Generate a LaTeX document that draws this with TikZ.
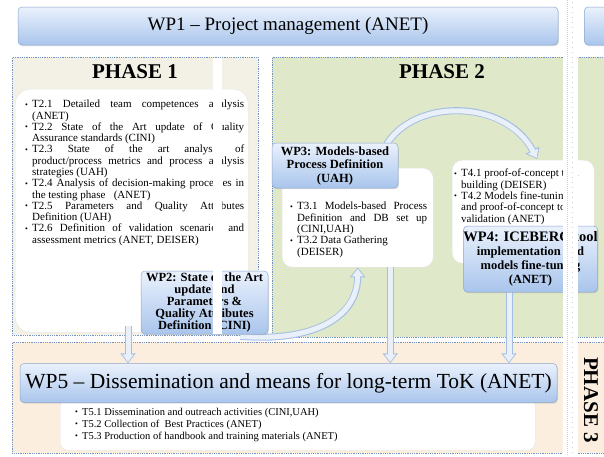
\documentclass[tikz,border=0pt]{standalone}
\usepackage{fontspec}
\setmainfont{Liberation Serif}
\usetikzlibrary{arrows.meta,shadows,calc}

\definecolor{wptop}{HTML}{EAF1FC}
\definecolor{wpbot}{HTML}{A9C5EC}
\definecolor{wpline}{HTML}{8EA8CF}
\definecolor{phline}{HTML}{7393C4}
\definecolor{phaseone}{HTML}{F3F1E6}
\definecolor{phasetwo}{HTML}{DFE8C9}
\definecolor{phasethree}{HTML}{FCEEDE}
\definecolor{arrline}{HTML}{A5BFE2}
\definecolor{arrfill}{HTML}{E9F0FA}
\definecolor{stripedot}{HTML}{C9D3DA}

\newlength{\itemw}
\newcommand{\listfont}{\fontsize{11}{11.4}\selectfont}
\newcommand{\smallfont}{\fontsize{10.5}{12}\selectfont}
% a line spread to the full item width
\newcommand{\jl}[1]{\makebox[\itemw][s]{#1}\\}
% bullet item: small bullet, then a block of width \itemw
\newcommand{\titem}[2][\listfont]{\par\noindent\hbox to 7pt{\raisebox{0.6pt}{\fontsize{8}{8}\selectfont\textbullet}\hss}%
  \parbox[t]{\itemw}{#1#2}}

\pgfdeclarelayer{back}
\pgfdeclarelayer{links}
\pgfdeclarelayer{front}
\pgfsetlayers{back,links,main,front}

\tikzset{
  wpbox/.style={draw=wpline, line width=0.5pt, rounded corners=4pt,
    top color=wptop, bottom color=wpbot,
    drop shadow={opacity=0.25, shadow xshift=0.8pt, shadow yshift=-1.2pt},
    inner sep=0pt, align=center, font=\bfseries},
  phasebox/.style={draw=phline, densely dotted, line width=0.8pt, inner sep=0pt, anchor=north west},
  taskbox/.style={fill=white, draw=black!10, line width=0.4pt, inner sep=0pt, anchor=north west},
  tasklist/.style={anchor=north west, inner sep=0pt, font=\listfont},
  phasetitle/.style={font=\fontsize{21}{21}\selectfont\bfseries, inner sep=0pt},
  arrowout/.style={line width=7pt, draw=arrline, -{Triangle[length=10pt,width=15pt]}},
  arrowin/.style={line width=5pt, draw=arrfill, -{Triangle[length=7.6pt,width=11pt]}, shorten >=1.3pt},
}

\begin{document}
\begin{tikzpicture}[x=1pt,y=-1pt]
\useasboundingbox (0,0) rectangle (604,456);
\clip (0,0) rectangle (604,456);

% ---------- phase areas, task panels and task lists ----------
\begin{pgfonlayer}{back}
\fill[white] (0,0) rectangle (604,456);
\node[phasebox, fill=phaseone, minimum width=246pt, minimum height=278pt] (ph1) at (12,57) {};
\node[phasebox, fill=phasetwo, minimum width=360pt, minimum height=280pt] (ph2) at (272,57) {};
\node[phasebox, fill=phasethree, minimum width=620pt, minimum height=111pt] (ph3) at (12,342) {};

\node[phasetitle] (ph1title) at (135,72) {PHASE 1};
\node[phasetitle] (ph2title) at (442,72) {PHASE 2};
\node[phasetitle, rotate=-90] (ph3title) at (591,400) {PHASE 3};

\node[taskbox, rounded corners=15pt, minimum width=233pt, minimum height=243pt] (t2box) at (15,89) {};
\node[tasklist] (t2list) at (25,100) {\setlength{\itemw}{212pt}%
\begin{minipage}[t]{219pt}\listfont
\titem{\jl{T2.1 Detailed team competences analysis}(ANET)}
\titem{\jl{T2.2 State of the Art update of Quality}Assurance standards (CINI)}
\titem{\jl{T2.3 State of the art analysis of}\jl{product/process metrics and process analysis}strategies (UAH)}
\titem{\jl{T2.4 Analysis of decision-making processes in}the testing phase\ \ \ (ANET)}
\titem{\jl{T2.5 Parameters and Quality Attributes}Definition (UAH)}
\titem{\jl{T2.6 Definition of validation scenarios and}assessment metrics (ANET, DEISER)}
\end{minipage}};

\node[taskbox, rounded corners=10pt, minimum width=151pt, minimum height=99pt] (t3box) at (282,168) {};
\node[tasklist] (t3list) at (290,202) {\setlength{\itemw}{130pt}%
\begin{minipage}[t]{137pt}\listfont
\titem{\jl{T3.1 Models-based Process}\jl{Definition and DB set up}(CINI,UAH)}
\titem{T3.2 Data Gathering\\(DEISER)}
\end{minipage}};

\node[taskbox, rounded corners=10pt, minimum width=142pt, minimum height=103pt] (t4box) at (452,160) {};
\node[tasklist] (t4list) at (454,169) {\setlength{\itemw}{128pt}%
\begin{minipage}[t]{135pt}\listfont
\titem{T4.1 proof-of-concept tool\\building (DEISER)}
\titem{T4.2 Models fine-tuning\\and proof-of-concept tool\\validation (ANET)}
\end{minipage}};

\node[taskbox, rounded corners=8pt, minimum width=475pt, minimum height=52pt] (t5box) at (60,398) {};
\node[tasklist] (t5list) at (75,408) {\setlength{\itemw}{320pt}%
\begin{minipage}[t]{327pt}\smallfont
\titem[\smallfont]{T5.1 Dissemination and outreach activities (CINI,UAH)}
\titem[\smallfont]{T5.2 Collection of\ \ Best Practices (ANET)}
\titem[\smallfont]{T5.3 Production of handbook and training materials (ANET)}
\end{minipage}};
\end{pgfonlayer}

% ---------- work packages ----------
\node[wpbox, font=\fontsize{19}{19}\selectfont, minimum width=540pt, minimum height=38pt] (wp1) at (288,26) {WP1 – Project management (ANET)};
\node[wpbox, minimum width=30pt, minimum height=38pt, anchor=west] (wpnext) at (584,26) {};

\node[wpbox, font=\fontsize{12.5}{12}\selectfont\bfseries, minimum width=127pt, minimum height=63pt] (wp2) at (204.5,302.5)
  {WP2: State of the Art\\update and\\Parameters \&\\Quality Attributes\\Definition (CINI)};
\node[wpbox, font=\fontsize{12.5}{13.5}\selectfont\bfseries, minimum width=126pt, minimum height=45pt] (wp3) at (335,165.5)
  {WP3: Models-based\\Process Definition\\(UAH)};
\node[wpbox, font=\fontsize{12.5}{14}\selectfont\bfseries, minimum width=127pt, minimum height=66pt] (wp4) at (530.5,259)
  {{\fontsize{14.5}{15}\selectfont WP4: ICEBERG tool}\\implementation and\\models fine-tuning\\(ANET)};
\node[wpbox, font=\fontsize{21.5}{21.5}\selectfont, minimum width=537pt, minimum height=39pt] (wp5) at (288.5,383)
  {WP5 – Dissemination and means for long-term ToK (ANET)};

% ---------- connectors ----------
\begin{pgfonlayer}{links}
\coordinate (d1) at (128,326);
\coordinate (d2) at ($(t3box.south west)!0.715!(t3box.south east)$);
\coordinate (d3) at ([xshift=-21.5pt]wp4.south);
\foreach \s in {d1,d2,d3} {
  \draw[arrowout] (\s) -- (\s |- wp5.north);
  \draw[arrowin] (\s) -- (\s |- wp5.north);
}
\coordinate (c1s) at ([xshift=-13pt,yshift=-4pt]wp3.north east);
\coordinate (c1e) at ([xshift=14pt,yshift=1pt]t4box.north);
\draw[arrowout] (c1s) .. controls (412,98) and (505,98) .. (c1e);
\draw[arrowin] (c1s) .. controls (412,98) and (505,98) .. (c1e);
\coordinate (c2s) at ([xshift=-28pt,yshift=-2pt]wp2.south east);
\draw[arrowout] (c2s) .. controls (305,342) and (357.5,322) .. (t3box.south);
\draw[arrowin] (c2s) .. controls (305,342) and (357.5,322) .. (t3box.south);
\end{pgfonlayer}

% ---------- white bands crossing the sheet ----------
\begin{pgfonlayer}{front}
\fill[white] (213,58) rectangle (222,334);
\fill[white] (563,0) rectangle (578,456);
\draw[stripedot, densely dotted, line width=1pt] (567,0) -- (567,456);
\draw[stripedot, loosely dotted, line width=1pt] (572,2) -- (572,456);
\end{pgfonlayer}
\end{tikzpicture}
\end{document}
